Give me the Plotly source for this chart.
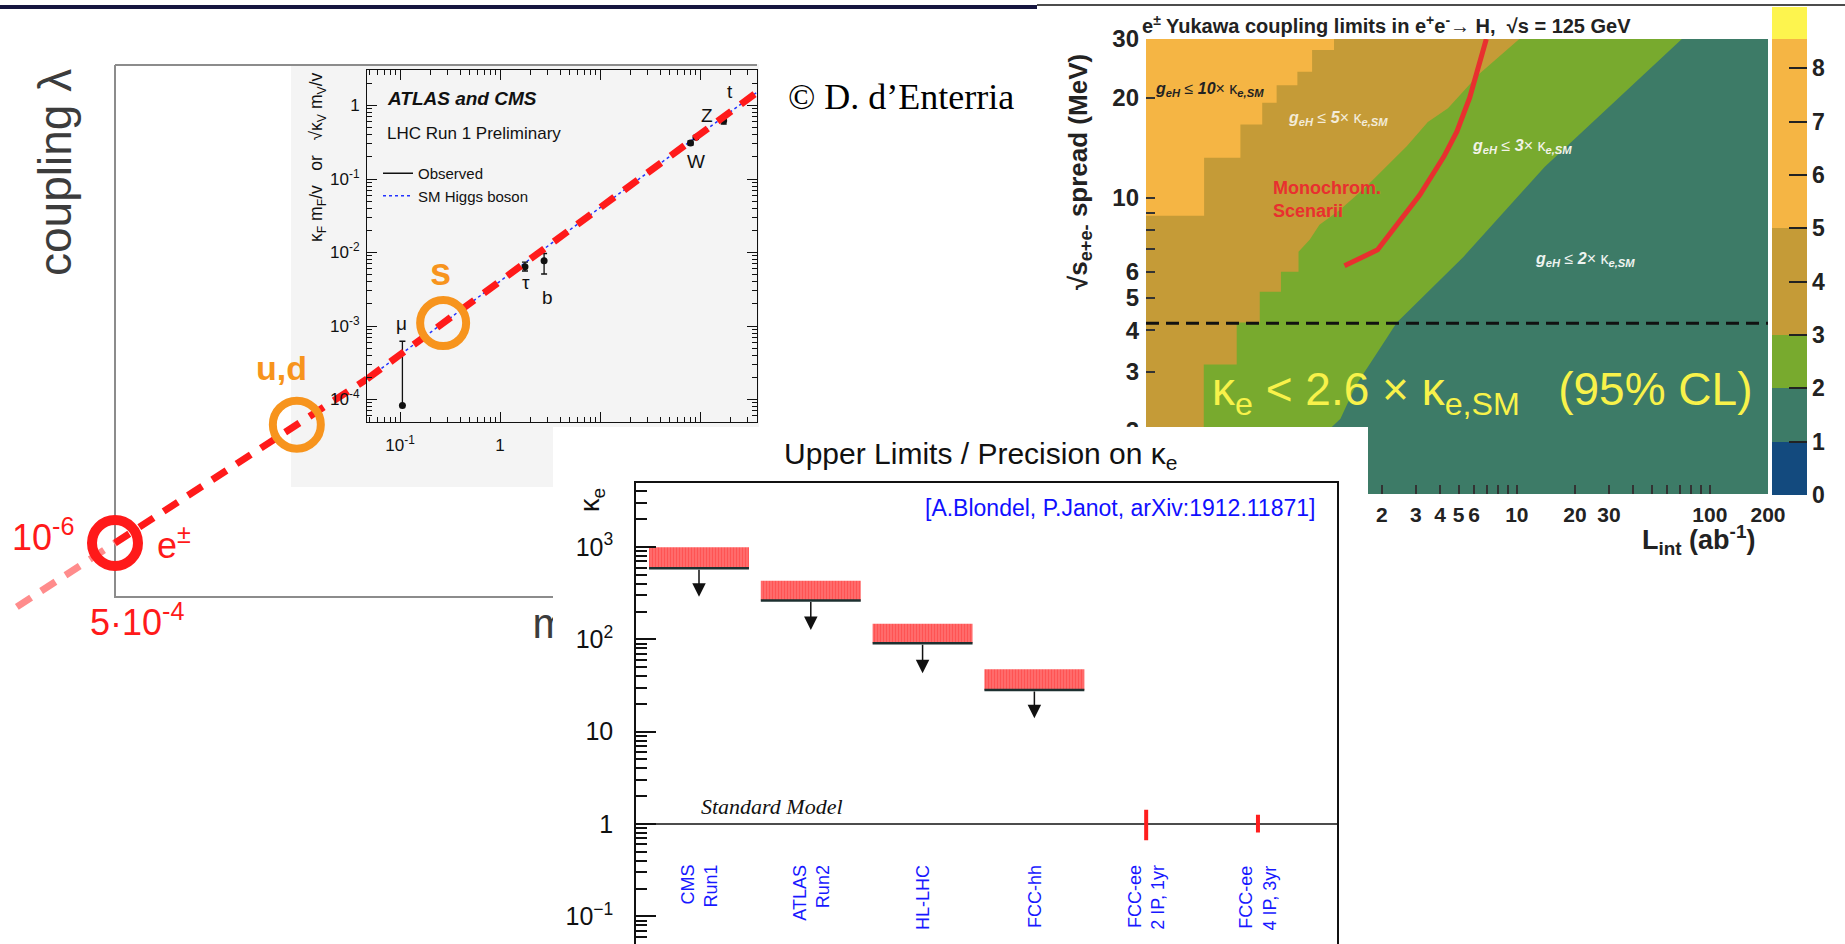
import numpy as np
import plotly.graph_objects as go

W, H = 1845, 944
SANS = "Liberation Sans, Arial, Helvetica, sans-serif"
SERIF = "Liberation Serif, Times New Roman, serif"


def px(x):
    return x / W


def py(y):
    return 1.0 - y / H


def lg(v):
    return float(np.log10(v))


# =============================== DATA ===============================
V_HIGGS = 246.0  # GeV

# --- LHC Run-1 inset (ATLAS+CMS) ---
inset_labels = ["μ", "τ", "b", "W", "Z", "t"]
inset_mass = [0.1057, 1.777, 2.76, 80.4, 91.2, 172.5]
inset_coupling = [8.3e-5, 6.4e-3, 7.7e-3, 0.31, 0.37, 0.62]
inset_err_up = [5.37e-4, 1.0e-3, 2.0e-3, 0.02, 0.02, 0.06]
inset_err_down = [0.0, 0.8e-3, 2.6e-3, 0.02, 0.02, 0.06]

# --- extrapolation to the light fermions ---
electron_mass = 5.11e-4
ud_mass = 0.0133
s_mass = 0.27
faint_start_mass = 8.8e-5

# --- e+e- -> H Yukawa limits map (region boundaries) ---
lumi_range = [0.12, 200.0]      # ab^-1
spread_range = [1.29, 30.0]     # MeV
bound2_lumi = [71.6, 13.96, 5.3, 2.39, 1.95, 1.47, 1.22, 1.07, 0.90]
bound2_spread = [30.0, 12.4, 6.66, 4.22, 3.52, 2.74, 2.17, 2.02, 1.29]
bound3_lumi = [10.3, 6.4, 4.4, 3.46, 2.69, 2.09, 1.63, 1.21, 0.95, 0.845, 0.74,
               0.74, 0.60, 0.60, 0.466, 0.466, 0.354, 0.354, 0.239, 0.239]
bound3_spread = [30.0, 23.6, 18.6, 16.9, 14.3, 12.4, 10.7, 9.2, 8.3, 7.48, 6.89,
                 6.0, 6.0, 5.22, 5.22, 4.22, 4.22, 3.16, 3.16, 1.29]
bound5_lumi = [1.13, 1.13, 0.87, 0.87, 0.73, 0.73, 0.57, 0.57, 0.48, 0.48,
               0.37, 0.37, 0.24, 0.24, 0.12]
bound5_spread = [30.0, 27.8, 27.8, 23.9, 23.9, 21.8, 21.8, 19.3, 19.3, 16.6,
                 16.6, 13.2, 13.2, 8.83, 8.83]
mono_lumi = [6.95, 6.43, 5.70, 4.89, 4.19, 3.14, 2.54, 1.90, 1.28]
mono_spread = [30.0, 25.4, 20.0, 15.8, 13.3, 10.2, 8.65, 6.98, 6.25]
spread_nominal = 4.2
palette_levels = [0, 1, 2, 3, 5, 8.55, 9.15]
palette_colors = ["#134A7E", "#3D7B67", "#78AA2E", "#C59B37", "#F5B544", "#FDF44E"]
lumi_ticks = [1, 2, 3, 4, 5, 6, 7, 8, 9, 10, 20, 30, 40, 50, 60, 70, 80, 90, 100, 200]
lumi_ticklabels = ["1", "2", "3", "4", "5", "6", "", "", "", "10", "20", "30",
                   "", "", "", "", "", "", "100", "200"]
spread_ticks = [2, 3, 4, 5, 6, 7, 8, 9, 10, 20, 30]
spread_ticklabels = ["2", "3", "4", "5", "6", "", "", "", "10", "20", "30"]

# --- Upper limits / precision on kappa_e ---
experiments = ["CMS<br>Run1", "ATLAS<br>Run2", "HL-LHC", "FCC-hh",
               "FCC-ee<br>2 IP, 1yr", "FCC-ee<br>4 IP, 3yr"]
limit_low = [590, 263, 91, 28.3]
limit_band_top = [995, 432, 148, 47.4]
limit_arrow_tip = [290, 126, 43, 14]
fccee_kappa = [1.0, 1.0]
fccee_err_up = [0.36, 0.20]
fccee_err_down = [0.30, 0.15]
sm_kappa = 1.0

# =============================== GEOMETRY ===============================
INS_L, INS_R, INS_T, INS_B = 367, 757, 70, 422
INS_XR = [-1.33, 2.57]
INS_YR = [-4.306, 0.483]
lam0 = 10 ** INS_XR[0] / V_HIGGS
anchor_py = INS_T + (INS_YR[1] - lg(lam0)) / (INS_YR[1] - INS_YR[0]) * (INS_B - INS_T)
E_PX, E_PY = 115, 543
DX = (INS_L - E_PX) / (INS_XR[0] - lg(electron_mass))
DY = (E_PY - anchor_py) / (lg(lam0) - lg(electron_mass / V_HIGGS))
OUT_L, OUT_R, OUT_T, OUT_B = 0, 830, 40, 650
out_xr = [INS_XR[0] - (INS_L - OUT_L) / DX, INS_XR[0] + (OUT_R - INS_L) / DX]
out_yr = [lg(lam0) - (OUT_B - anchor_py) / DY, lg(lam0) + (anchor_py - OUT_T) / DY]

RED = "#FF1A1A"
ORANGE = "#F7941D"

fig = go.Figure()

# ------------------------- outer coupling chart (x, y) -------------------------
m_faint = np.array([faint_start_mass, electron_mass])
fig.add_trace(go.Scatter(x=m_faint, y=m_faint / V_HIGGS, mode="lines",
                         line=dict(color="#FF8C8C", width=7, dash="17px,12px"),
                         xaxis="x", yaxis="y", showlegend=False, hoverinfo="skip"))
m_red = np.array([electron_mass, 10 ** INS_XR[0]])
fig.add_trace(go.Scatter(x=m_red, y=m_red / V_HIGGS, mode="lines",
                         line=dict(color=RED, width=7, dash="17px,12px"),
                         xaxis="x", yaxis="y", showlegend=False, hoverinfo="skip"))
fig.add_trace(go.Scatter(x=[electron_mass], y=[electron_mass / V_HIGGS], mode="markers",
                         marker=dict(symbol="circle-open", size=46, color=RED, line=dict(width=10)),
                         xaxis="x", yaxis="y", showlegend=False, cliponaxis=False, hoverinfo="skip"))
fig.add_trace(go.Scatter(x=[ud_mass], y=[ud_mass / V_HIGGS], mode="markers",
                         marker=dict(symbol="circle-open", size=48, color=ORANGE, line=dict(width=8)),
                         xaxis="x", yaxis="y", showlegend=False, cliponaxis=False, hoverinfo="skip"))
# "m" of the (hidden) mass axis title, drawn in the outer chart so the lower panel hides it
m_lab_x = 10 ** (INS_XR[0] + (550 - INS_L) / DX)
m_lab_y = 10 ** (lg(lam0) - (627 - anchor_py) / DY)
fig.add_trace(go.Scatter(x=[m_lab_x], y=[m_lab_y], mode="text", text=["m"],
                         textfont=dict(size=42, color="#3c3c3c", family=SANS),
                         xaxis="x", yaxis="y", showlegend=False, hoverinfo="skip"))

# ------------------------- inset (x2, y2) -------------------------
m_inset = np.array([10 ** INS_XR[0], 10 ** INS_XR[1]])
fig.add_trace(go.Scatter(x=[None], y=[None], mode="lines", name="Observed",
                         line=dict(color="#111", width=1.5), xaxis="x2", yaxis="y2"))
fig.add_trace(go.Scatter(x=m_inset, y=m_inset / V_HIGGS, mode="lines", name="SM Higgs boson",
                         line=dict(color="#2233FF", width=1.5, dash="dot"),
                         xaxis="x2", yaxis="y2"))
fig.add_trace(go.Scatter(x=inset_mass, y=inset_coupling, mode="markers",
                         marker=dict(color="#111", size=7),
                         error_y=dict(type="data", array=inset_err_up, arrayminus=inset_err_down,
                                      color="#111", thickness=1.3, width=3),
                         xaxis="x2", yaxis="y2", showlegend=False, hoverinfo="skip"))
fig.add_trace(go.Scatter(x=m_inset, y=m_inset / V_HIGGS, mode="lines",
                         line=dict(color=RED, width=7, dash="17px,12px"),
                         xaxis="x2", yaxis="y2", showlegend=False, hoverinfo="skip"))
fig.add_trace(go.Scatter(x=[s_mass], y=[s_mass / V_HIGGS], mode="markers",
                         marker=dict(symbol="circle-open", size=46, color=ORANGE, line=dict(width=8)),
                         xaxis="x2", yaxis="y2", showlegend=False, cliponaxis=False, hoverinfo="skip"))

# ------------------------- Yukawa map (x3, y3) -------------------------
L0, L1 = lumi_range
S0, S1 = spread_range
fig.add_trace(go.Scatter(x=[L0, L1, L1, L0, L0], y=[S0, S0, S1, S1, S0], fill="toself",
                         fillcolor=palette_colors[1], line=dict(width=0), mode="lines",
                         xaxis="x3", yaxis="y3", showlegend=False, hoverinfo="skip"))
for bl, bs, col in [(bound2_lumi, bound2_spread, palette_colors[2]),
                    (bound3_lumi, bound3_spread, palette_colors[3]),
                    (bound5_lumi, bound5_spread, palette_colors[4])]:
    xs = list(bl) + [L0, L0, bl[0]]
    ys = list(bs) + [bs[-1], S1, bs[0]]
    fig.add_trace(go.Scatter(x=xs, y=ys, fill="toself", fillcolor=col, line=dict(width=0),
                             mode="lines", xaxis="x3", yaxis="y3", showlegend=False,
                             hoverinfo="skip"))
fig.add_trace(go.Scatter(x=lumi_range, y=[spread_nominal, spread_nominal], mode="lines",
                         line=dict(color="#111", width=3, dash="13px,7px"),
                         xaxis="x3", yaxis="y3", showlegend=False, hoverinfo="skip"))
fig.add_trace(go.Scatter(x=mono_lumi, y=mono_spread, mode="lines",
                         line=dict(color="#E8302F", width=5),
                         xaxis="x3", yaxis="y3", showlegend=False, hoverinfo="skip"))
zmax = palette_levels[-1]
cscale = []
for i, c in enumerate(palette_colors):
    cscale.append([palette_levels[i] / zmax, c])
    cscale.append([palette_levels[i + 1] / zmax, c])
fig.add_trace(go.Scatter(x=[L1], y=[S1], mode="markers",
                         marker=dict(size=1, opacity=0, color=[0], colorscale=cscale, cmin=0,
                                     cmax=zmax, showscale=True,
                                     colorbar=dict(x=px(1772), xanchor="left", y=py(495),
                                                   yanchor="bottom", len=488, lenmode="pixels",
                                                   thickness=35, thicknessmode="pixels",
                                                   xpad=0, ypad=0, outlinewidth=0,
                                                   tickvals=list(range(9)), ticks="inside",
                                                   ticklen=18, tickwidth=2, tickcolor="#222",
                                                   tickfont=dict(size=23, family=SANS,
                                                                 color="#222", weight="bold"))),
                         xaxis="x3", yaxis="y3", showlegend=False, hoverinfo="skip"))

# ------------------------- white panel (x4, y4) -------------------------
fig.add_trace(go.Scatter(x=[0.5], y=[0.5], mode="markers", marker=dict(opacity=0),
                         xaxis="x4", yaxis="y4", showlegend=False, hoverinfo="skip"))

# ------------------------- kappa_e limits (x5, y5) -------------------------
XR5 = [-0.5635, 5.707]
cat_x = list(range(len(experiments)))
fig.add_trace(go.Scatter(x=XR5, y=[sm_kappa, sm_kappa], mode="lines",
                         line=dict(color="#111", width=1.5),
                         xaxis="x5", yaxis="y5", showlegend=False, hoverinfo="skip"))
n_lim = len(limit_low)
fig.add_trace(go.Bar(x=cat_x[:n_lim], y=[t - l for t, l in zip(limit_band_top, limit_low)],
                     base=limit_low, width=0.894,
                     marker=dict(color="#FF6A6A",
                                 pattern=dict(shape="|", fgcolor="#FF1A1A", bgcolor="#FF8C8C",
                                              size=3, solidity=0.72),
                                 line=dict(width=0)),
                     xaxis="x5", yaxis="y5", showlegend=False, hoverinfo="skip"))
seg_x, seg_y = [], []
for i, l in zip(cat_x, limit_low):
    seg_x += [i - 0.447, i + 0.447, None]
    seg_y += [l, l, None]
fig.add_trace(go.Scatter(x=seg_x, y=seg_y, mode="lines", line=dict(color="#1d3030", width=2.5),
                         xaxis="x5", yaxis="y5", showlegend=False, hoverinfo="skip"))
fig.add_trace(go.Scatter(x=cat_x[n_lim:], y=fccee_kappa, mode="markers",
                         marker=dict(size=2, color="#FF1E1E"),
                         error_y=dict(type="data", array=fccee_err_up, arrayminus=fccee_err_down,
                                      color="#FF1E1E", thickness=4, width=2),
                         xaxis="x5", yaxis="y5", showlegend=False, hoverinfo="skip"))

# =============================== ANNOTATIONS ===============================
ann = []


def text(t, x, y, size, color="#000", xanchor="center", yanchor="middle", family=SANS,
         angle=0, xref="paper", yref="paper", **kw):
    ann.append(dict(text=t, x=x, y=y, xref=xref, yref=yref, xanchor=xanchor, yanchor=yanchor,
                    showarrow=False, textangle=angle,
                    font=dict(size=size, color=color, family=family), **kw))


# left chart
text("coupling λ", px(55), py(173), 46, "#3c3c3c", angle=-90)
text("© D. d’Enterria", px(786), py(97), 36, "#000", xanchor="left", family=SERIF)
text("10<sup>-6</sup>", px(10), py(535), 36, RED, xanchor="left")
text("5·10<sup>-4</sup>", px(137), py(620), 36, RED)
text("e<sup>±</sup>", px(155), py(543), 36, RED, xanchor="left")
text("<b>u,d</b>", px(281), py(368), 34, ORANGE)
text("<b>s</b>", px(440), py(272), 38, ORANGE)

# inset
text("<b><i>ATLAS and CMS</i></b>", px(385), py(98), 19, "#111", xanchor="left")
text("LHC Run 1 Preliminary", px(385), py(133), 17, "#111", xanchor="left")
text("κ<sub>F</sub> m<sub>F</sub>/v   or   √κ<sub>V</sub> m<sub>V</sub>/v", px(317), py(70), 17.5,
     "#111", yanchor="top", angle=-90)
label_shift = {"μ": (-1, 82), "τ": (1, -16), "b": (3, -37), "W": (5, -19), "Z": (11, 22),
               "t": (6, 29)}
for lab, m, c in zip(inset_labels, inset_mass, inset_coupling):
    dx, dy = label_shift[lab]
    text(lab, lg(m), lg(c), 19, "#111", xref="x2", yref="y2", xshift=dx, yshift=dy)

# right chart
text("<b>e<sup>±</sup> Yukawa coupling limits in e<sup>+</sup>e<sup>-</sup>→ H,  √s = 125 GeV</b>",
     px(1140), py(24), 20, "#222", xanchor="left")
text("<b>√s<sub>e+e-</sub> spread (MeV)</b>", px(1080), py(172), 26, "#222", angle=-90)
text("<b>L<sub>int</sub> (ab<sup>-1</sup>)</b>", px(1757), py(540), 27, "#222", xanchor="right")
gl = "<b><i>g</i></b><sub><b><i>eH</i></b></sub> ≤ <b><i>{}</i></b>× κ<sub><b><i>e,SM</i></b></sub>"
text(gl.format("10"), lg(0.13), lg(21.1), 16, "#222", xanchor="left", xref="x3", yref="y3")
text(gl.format("5"), lg(0.635), lg(17.3), 16, "#F3EBD8", xanchor="left", xref="x3", yref="y3")
text(gl.format("3"), lg(5.7), lg(14.3), 16, "#F3F3E8", xanchor="left", xref="x3", yref="y3")
text(gl.format("2"), lg(12.1), lg(6.52), 16, "#EEF3F0", xanchor="left", xref="x3", yref="y3")
text("<b>Monochrom.<br>Scenarii</b>", lg(0.53), lg(9.86), 18, "#E8302F", xanchor="left",
     xref="x3", yref="y3", align="left")
text("κ<sub>e</sub> &lt; 2.6 × κ<sub>e,SM</sub>   (95% CL)", lg(6.6), lg(2.6), 46, "#F8F24A",
     xref="x3", yref="y3")

# bottom chart
text("Upper Limits / Precision on κ<sub>e</sub>", px(981), py(455), 30, "#111")
text("κ<sub>e</sub>", px(592), py(500), 27, "#111", angle=-90)
text("[A.Blondel, P.Janot, arXiv:1912.11871]", px(1317), py(508), 23, "#1010FF",
     xanchor="right")
text("<i>Standard Model</i>", 0, lg(sm_kappa), 22, "#111", xanchor="left", yanchor="bottom",
     family=SERIF, xref="x5", yref="y5", yshift=3)
for i, name in zip(cat_x, experiments):
    text(name, i, lg(0.378), 18, "#1818FF", yanchor="top", angle=-90, xref="x5", yref="y5",
         align="right")
for i, l, tip in zip(cat_x, limit_low, limit_arrow_tip):
    ann.append(dict(x=i, y=lg(tip), ax=i, ay=lg(l), xref="x5", yref="y5", axref="x5",
                    ayref="y5", text="", showarrow=True, arrowhead=2, arrowsize=1.8,
                    arrowwidth=1.5, arrowcolor="#111", standoff=0, startstandoff=0))

# =============================== SHAPES ===============================
shapes = [
    dict(type="rect", xref="paper", yref="paper", x0=px(291), x1=px(759), y0=py(487), y1=py(64),
         fillcolor="#F4F4F4", line=dict(width=0), layer="below"),
    dict(type="rect", xref="x2", yref="y2", x0=1e-3, x1=1e4, y0=1e-7, y1=1e2,
         fillcolor="#F4F4F4", line=dict(width=0), layer="below"),
    dict(type="line", xref="paper", yref="paper", x0=px(115), x1=px(115), y0=py(65), y1=py(597),
         line=dict(color="#8c8c8c", width=2), layer="below"),
    dict(type="line", xref="paper", yref="paper", x0=px(115), x1=px(757), y0=py(65), y1=py(65),
         line=dict(color="#8c8c8c", width=2), layer="below"),
    dict(type="line", xref="paper", yref="paper", x0=px(114), x1=px(760), y0=py(597), y1=py(597),
         line=dict(color="#8c8c8c", width=2), layer="below"),
    dict(type="line", xref="paper", yref="paper", x0=0, x1=px(1037), y0=py(7), y1=py(7),
         line=dict(color="#16163f", width=4), layer="above"),
    dict(type="line", xref="paper", yref="paper", x0=px(1037), x1=1, y0=py(5), y1=py(5),
         line=dict(color="#111", width=1.5), layer="above"),
]

# =============================== AXES ===============================
def minor_vals(e0, e1):
    return [k * 10.0 ** e for e in range(e0, e1) for k in range(2, 10)]


inset_axis = dict(showline=True, linecolor="#111", linewidth=1, mirror="ticks", ticks="inside",
                  tickcolor="#111", tickwidth=1, ticklen=10, showgrid=False, zeroline=False,
                  tickfont=dict(size=17, family=SANS, color="#111"), type="log")

fig.update_layout(
    width=W, height=H, margin=dict(l=0, r=0, t=0, b=0, autoexpand=False),
    paper_bgcolor="white", plot_bgcolor="white",
    font=dict(family=SANS),
    xaxis=dict(domain=[px(OUT_L), px(OUT_R)], type="log", range=out_xr, visible=False,
               anchor="y"),
    yaxis=dict(domain=[py(OUT_B), py(OUT_T)], type="log", range=out_yr, visible=False,
               anchor="x"),
    xaxis2=dict(inset_axis, domain=[px(INS_L), px(INS_R)], range=INS_XR, anchor="y2",
                tickvals=[0.1, 1, 10, 100], ticktext=["10<sup>-1</sup>", "1", "10", "10<sup>2</sup>"],
                ticklabelstandoff=8,
                minor=dict(ticks="inside", ticklen=5, tickcolor="#111", tickvals=minor_vals(-2, 3))),
    yaxis2=dict(inset_axis, domain=[py(INS_B), py(INS_T)], range=INS_YR, anchor="x2",
                tickvals=[1e-4, 1e-3, 1e-2, 1e-1, 1],
                ticktext=["10<sup>-4</sup>", "10<sup>-3</sup>", "10<sup>-2</sup>",
                          "10<sup>-1</sup>", "1"], ticklabelstandoff=3,
                minor=dict(ticks="inside", ticklen=5, tickcolor="#111", tickvals=minor_vals(-5, 1))),
    xaxis3=dict(domain=[px(1146), px(1768)], type="log", range=[lg(L0), lg(L1)], anchor="y3",
                showline=False, ticks="inside", ticklen=9, tickwidth=1.5, tickcolor="#333",
                tickvals=lumi_ticks, ticktext=lumi_ticklabels, showgrid=False, zeroline=False,
                ticklabelstandoff=6,
                tickfont=dict(size=21, family=SANS, color="#222", weight="bold")),
    yaxis3=dict(domain=[py(494), py(39)], type="log", range=[lg(S0), lg(S1)], anchor="x3",
                showline=False, ticks="inside", ticklen=9, tickwidth=1.5, tickcolor="#333",
                tickvals=spread_ticks, ticktext=spread_ticklabels, showgrid=False,
                zeroline=False, ticklabelstandoff=6,
                tickfont=dict(size=24, family=SANS, color="#222", weight="bold")),
    xaxis4=dict(domain=[px(553), px(1368)], range=[0, 1], visible=False, anchor="y4"),
    yaxis4=dict(domain=[0, py(427)], range=[0, 1], visible=False, anchor="x4"),
    xaxis5=dict(domain=[px(636), px(1337)], range=XR5, anchor="y5", showline=True, mirror=True,
                linecolor="#111", linewidth=1.5, showticklabels=False, ticks="",
                showgrid=False, zeroline=False),
    yaxis5=dict(domain=[0, py(483)], type="log", range=[-1.30, 3.694], anchor="x5",
                showline=True, mirror=True, linecolor="#111", linewidth=1.5, ticks="inside",
                ticklen=20, tickwidth=1.5, tickcolor="#111", showgrid=False, zeroline=False,
                tickvals=[0.1, 1, 10, 100, 1000],
                ticktext=["10<sup>−1</sup>", "1", "10", "10<sup>2</sup>", "10<sup>3</sup>"],
                tickfont=dict(size=25, family=SANS, color="#111"), ticklabelstandoff=16,
                minor=dict(ticks="inside", ticklen=11, tickcolor="#111",
                           tickvals=minor_vals(-2, 4))),
    legend=dict(x=px(378), y=py(157), xanchor="left", yanchor="top",
                bgcolor="rgba(0,0,0,0)", font=dict(size=15, family=SANS, color="#111"),
                itemwidth=30, tracegroupgap=0),
    barmode="overlay",
    annotations=ann,
    shapes=shapes,
    showlegend=True,
)

fig.write_html("out.html", include_plotlyjs=True, full_html=True,
               config={"displayModeBar": False},
               post_script="document.body.style.margin='0';document.body.style.overflow='hidden';")
